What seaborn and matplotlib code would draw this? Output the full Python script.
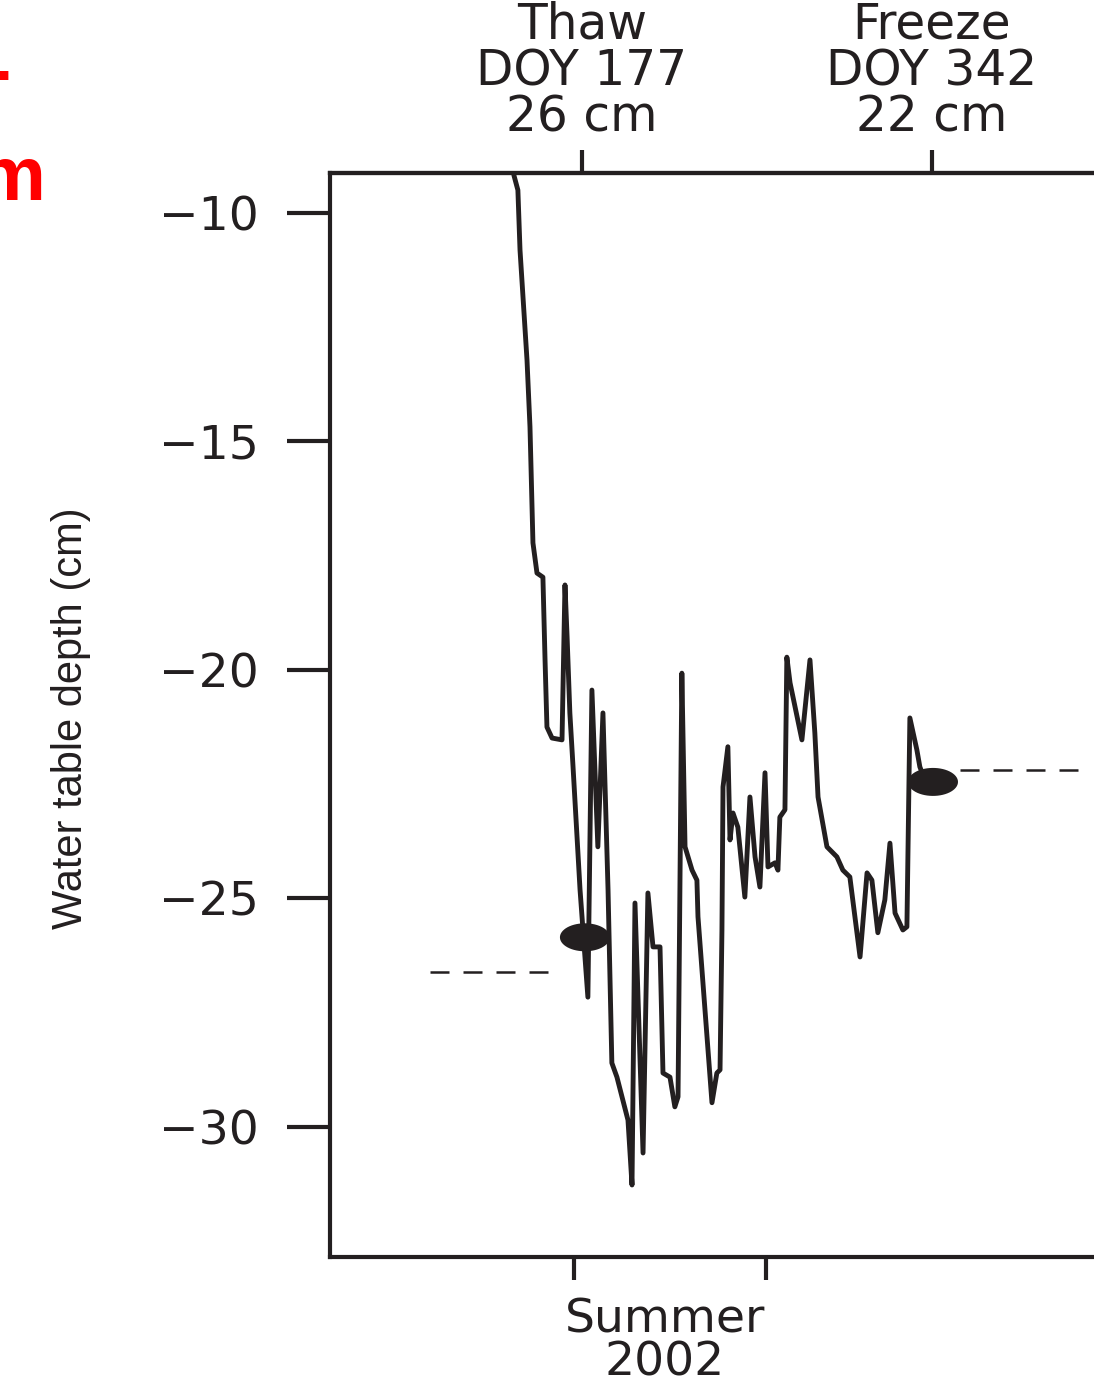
import matplotlib
matplotlib.use('Agg')
import matplotlib.pyplot as plt
import matplotlib.transforms as mtransforms
from matplotlib import font_manager
from matplotlib.path import Path
import numpy as np
import pandas as pd
import seaborn as sns

# water table depth trace (day of year, cm)
day = [144.9, 146.8, 147.8, 151.1, 152.5, 153.9, 155.8, 158.6, 159.6, 160.5,
       162.9, 167.6, 169.0, 170.0, 171.3, 172.8, 176.1, 179.8, 181.7, 184.5,
       186.9, 189.3, 191.1, 193.5, 198.7, 200.6, 202.0, 205.8, 208.1, 210.5,
       213.8, 215.2, 218.5, 220.8, 222.3, 224.1, 225.6, 228.9, 231.2, 231.7,
       238.3, 240.6, 242.1, 243.0, 243.5, 245.8, 246.8, 248.2, 250.5, 253.8,
       256.2, 258.6, 260.9, 263.3, 264.7, 268.0, 269.4, 270.3, 272.7, 273.6,
       275.1, 280.7, 284.5, 286.8, 288.3, 292.5, 297.2, 300.0, 303.3, 308.1,
       311.4, 313.7, 316.5, 319.8, 322.2, 324.6, 328.3, 330.2, 331.6, 334.9,
       336.3, 338.7]
depth = [-9.17, -9.50, -10.81, -13.22, -14.68, -17.22, -17.88, -17.97, -19.78, -21.25,
         -21.49, -21.53, -18.14, -19.28, -20.94, -22.12, -24.81, -27.16, -20.44, -23.87,
         -20.94, -24.81, -28.60, -28.91, -29.85, -31.27, -25.10, -30.57, -24.88, -26.06,
         -26.06, -28.82, -28.91, -29.56, -29.34, -20.07, -23.87, -24.38, -24.60, -25.40,
         -29.47, -28.82, -28.75, -25.69, -22.56, -21.68, -23.72, -23.13, -23.44, -24.97,
         -22.78, -24.09, -24.75, -22.25, -24.31, -24.22, -24.38, -23.22, -23.06, -19.72,
         -20.28, -21.53, -19.78, -21.38, -22.78, -23.87, -24.09, -24.38, -24.53, -26.28,
         -24.44, -24.60, -25.75, -25.03, -23.79, -25.32, -25.69, -25.62, -21.05, -21.75,
         -22.12, -22.41]

# thaw / freeze events
event_day = [178.4, 342.5]
event_depth = [-25.85, -22.45]
event_ticks = [177, 342]
event_labels = ['Thaw\nDOY 177\n26 cm', 'Freeze\nDOY 342\n22 cm']

# dashed reference levels
ref_left_day = [105.3, 161.9]
ref_left_depth = [-26.62, -26.62]
ref_right_day = [355.2, 414.1]
ref_right_depth = [-22.18, -22.18]

season_ticks = [173.2, 263.7]
season_label = 'Summer\n2002'
season_label_day = 216.1

yticks = [-30, -25, -20, -15, -10]
ytick_labels = ['\u2212' + str(abs(v)) for v in yticks]

sns.set_style('ticks')
plt.rcParams['font.family'] = ['DejaVu Sans']

installed = {f.name for f in font_manager.fontManager.ttflist}
if 'Liberation Sans Narrow' in installed:
    ylab_font, ylab_size = 'Liberation Sans Narrow', 36
else:
    ylab_font, ylab_size = 'Liberation Sans', 30

ink = '#231f20'

fig = plt.figure(figsize=(10.94, 13.86), dpi=100)
ax = fig.add_axes([0.3016, 0.0931, 0.6984, 0.7821])

df = pd.DataFrame({'day': day, 'depth': depth})
sns.lineplot(data=df, x='day', y='depth', sort=False, estimator=None,
             color=ink, linewidth=3.5, ax=ax)

sns.lineplot(x=ref_left_day, y=ref_left_depth, color=ink, linewidth=1.8,
             linestyle=(0, (7.6, 5.6)), ax=ax)
sns.lineplot(x=ref_right_day, y=ref_right_depth, color=ink, linewidth=1.8,
             linestyle=(0, (7.6, 5.6)), ax=ax)

theta = np.linspace(0, 2 * np.pi, 60)
ellipse = Path(np.column_stack([np.cos(theta), 0.56 * np.sin(theta)]))
sns.scatterplot(x=event_day, y=event_depth, marker=ellipse, s=36 ** 2,
                color=ink, edgecolor='none', zorder=5, ax=ax)

ax.set_xlim(58.2, 418.4)
ax.set_ylim(-32.845, -9.125)

for side in ['left', 'bottom', 'top']:
    ax.spines[side].set_linewidth(3)
    ax.spines[side].set_color(ink)
ax.spines['right'].set_visible(False)

ax.set_yticks(yticks, labels=ytick_labels)
ax.tick_params(axis='y', direction='out', length=31, width=3, color=ink,
               pad=20, labelsize=34, labelcolor=ink)
ax.set_xticks(season_ticks, labels=['', ''])
ax.tick_params(axis='x', direction='out', length=16.5, width=3, color=ink)

secax = ax.secondary_xaxis('top')
secax.set_xticks(event_ticks, labels=event_labels)
secax.tick_params(direction='out', length=16.5, width=3, color=ink, pad=6,
                  labelsize=35, labelcolor=ink)
secax.spines['top'].set_linewidth(3)
secax.spines['top'].set_color(ink)
for lab in secax.get_xticklabels():
    lab.set_linespacing(0.96)

trans = mtransforms.blended_transform_factory(ax.transData, ax.transAxes)
ax.text(season_label_day, -0.037, season_label, transform=trans, ha='center',
        va='top', fontsize=34, color=ink, linespacing=0.95)

ax.set_xlabel('')
ax.set_ylabel('Water table depth (cm)', family=[ylab_font, 'DejaVu Sans'],
              fontsize=ylab_size, color=ink)
ax.yaxis.set_label_coords(-0.313, 0.497)

# red text cut by the frame at the upper left
fig.text(46 / 1094, 1 - 200 / 1386, 'm', color='#ff0000', fontweight='bold',
         fontsize=55, family=['Liberation Sans', 'DejaVu Sans'],
         ha='right', va='baseline')
fig.text(11 / 1094, 1 - 95 / 1386, '-', color='#ff0000', fontweight='bold',
         fontsize=55, family=['Liberation Sans', 'DejaVu Sans'],
         ha='right', va='baseline')

fig.savefig('out.png', dpi=100)
